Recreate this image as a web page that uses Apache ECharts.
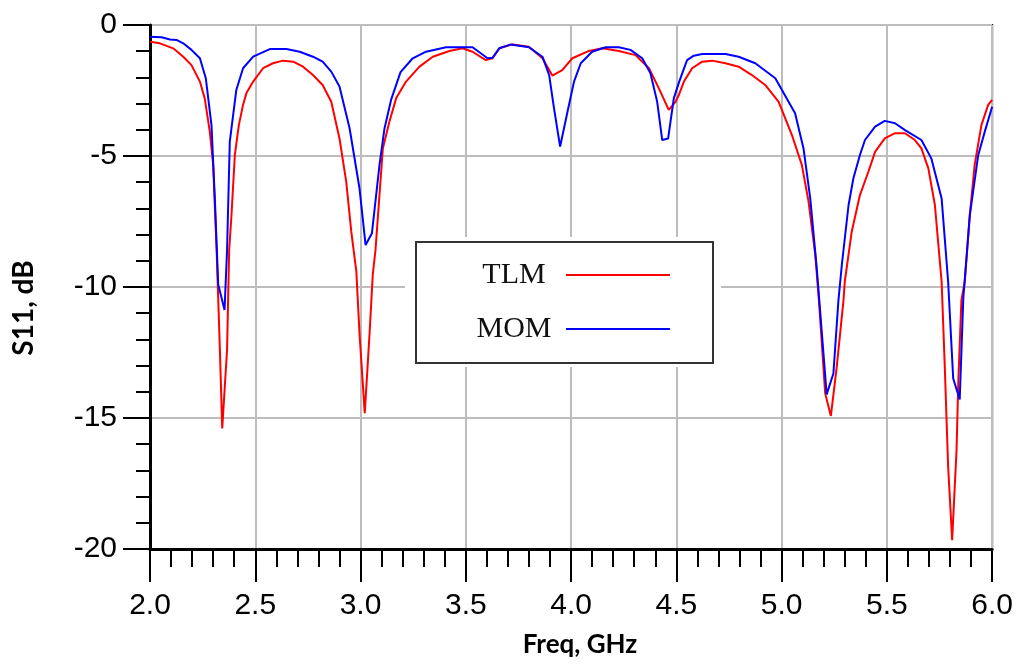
<!DOCTYPE html>
<html>
<head>
<meta charset="utf-8">
<script src="https://cdn.jsdelivr.net/npm/echarts@6/dist/echarts.min.js"></script>
<style>html,body{margin:0;padding:0;background:#fff;}#c{width:1016px;height:666px;}</style>
</head>
<body>
<div id="c"></div>
<script>
// ---- data ----
var xTicks = [2.0, 2.5, 3.0, 3.5, 4.0, 4.5, 5.0, 5.5, 6.0];
var yTicks = [0, -5, -10, -15, -20];
var seriesNames = ['TLM', 'MOM'];

var tlmFreq = [2.000,2.047,2.110,2.158,2.197,2.237,2.260,2.284,2.300,2.316,2.332,2.343,2.366,2.376,2.387,2.403,2.422,2.442,2.458,2.490,2.537,2.584,2.632,2.680,2.727,2.774,2.820,2.861,2.900,2.932,2.956,2.980,2.995,3.020,3.043,3.058,3.071,3.106,3.137,3.169,3.216,3.280,3.343,3.422,3.485,3.532,3.595,3.627,3.659,3.722,3.800,3.864,3.911,3.958,4.006,4.085,4.148,4.227,4.306,4.370,4.417,4.464,4.496,4.512,4.536,4.575,4.623,4.670,4.733,4.796,4.859,4.922,4.986,5.049,5.096,5.128,5.160,5.178,5.207,5.234,5.262,5.294,5.300,5.333,5.372,5.412,5.444,5.490,5.539,5.586,5.633,5.664,5.697,5.728,5.760,5.775,5.791,5.810,5.831,5.839,5.854,5.870,5.894,5.917,5.949,5.981,6.000];
var tlmS11 = [-0.64,-0.70,-0.89,-1.21,-1.53,-2.16,-2.80,-4.07,-5.34,-8.5,-12.4,-15.4,-12.4,-8.6,-7.25,-4.96,-3.82,-3.05,-2.6,-2.16,-1.65,-1.46,-1.36,-1.40,-1.59,-1.91,-2.29,-2.93,-4.33,-5.98,-7.89,-9.4,-11.76,-14.82,-11.76,-9.54,-8.59,-4.71,-3.69,-2.80,-2.16,-1.59,-1.21,-0.99,-0.89,-1.02,-1.34,-1.27,-0.89,-0.74,-0.83,-1.27,-1.93,-1.72,-1.27,-0.99,-0.89,-0.99,-1.15,-1.65,-2.42,-3.24,-2.93,-2.67,-2.16,-1.65,-1.40,-1.36,-1.46,-1.59,-1.91,-2.29,-2.93,-4.2,-5.34,-6.74,-8.78,-10.6,-14.06,-14.92,-13.04,-10.5,-9.8,-7.89,-6.49,-5.6,-4.84,-4.33,-4.13,-4.13,-4.39,-4.71,-5.47,-6.87,-9.8,-13.04,-16.86,-19.66,-16.2,-13.67,-10.5,-9.8,-7.25,-5.34,-3.82,-3.05,-2.86];

var momFreq = [2.000,2.055,2.095,2.126,2.158,2.197,2.237,2.265,2.292,2.308,2.324,2.354,2.366,2.379,2.410,2.442,2.490,2.569,2.648,2.711,2.774,2.820,2.861,2.900,2.948,2.995,3.024,3.054,3.090,3.114,3.145,3.190,3.248,3.311,3.406,3.532,3.571,3.603,3.627,3.659,3.714,3.800,3.864,3.896,3.919,3.948,3.983,4.014,4.046,4.100,4.164,4.227,4.282,4.338,4.377,4.409,4.433,4.461,4.488,4.512,4.530,4.551,4.583,4.623,4.733,4.796,4.875,4.970,5.064,5.104,5.136,5.167,5.214,5.246,5.270,5.286,5.318,5.341,5.372,5.396,5.444,5.490,5.539,5.586,5.664,5.711,5.760,5.791,5.815,5.846,5.863,5.894,5.934,5.965,6.000];
var momS11 = [-0.45,-0.47,-0.55,-0.57,-0.70,-0.95,-1.27,-2.03,-3.82,-6.62,-9.9,-10.88,-8.6,-4.45,-2.48,-1.65,-1.21,-0.92,-0.92,-1.02,-1.21,-1.40,-1.78,-2.35,-3.94,-6.23,-8.4,-7.95,-5.34,-3.94,-2.86,-1.8,-1.27,-1.02,-0.85,-0.85,-1.08,-1.27,-1.25,-0.89,-0.74,-0.85,-1.21,-1.91,-3.18,-4.64,-3.31,-2.16,-1.46,-1.02,-0.85,-0.85,-0.95,-1.27,-1.84,-2.93,-4.39,-4.33,-2.8,-2.2,-1.8,-1.34,-1.17,-1.11,-1.11,-1.21,-1.46,-2.03,-3.37,-4.71,-6.62,-9.29,-14.1,-13.3,-10.5,-9.16,-6.87,-5.85,-4.96,-4.39,-3.88,-3.66,-3.75,-4.01,-4.39,-5.09,-6.62,-9.8,-13.49,-14.29,-10.43,-7.25,-4.96,-4.07,-3.12];

function pairs(xs, ys) { return xs.map(function (x, i) { return [x, ys[i]]; }); }

var chart = echarts.init(document.getElementById('c'), null, { renderer: 'canvas' });
var gridColor = '#bdbdbd';
chart.setOption({
  animation: false,
  backgroundColor: '#ffffff',
  textStyle: { fontFamily: 'Liberation Sans, Arial, sans-serif' },
  grid: { left: 150, right: 22, top: 25, bottom: 117, show: true, borderColor: '#000', borderWidth: 2, backgroundColor: 'transparent' },
  xAxis: {
    type: 'value', min: xTicks[0], max: xTicks[xTicks.length - 1], interval: 0.5,
    axisLine: { show: true, onZero: false, lineStyle: { color: '#000', width: 3 } },
    axisTick: { show: true, inside: false, length: 33, lineStyle: { color: '#000', width: 2 } },
    minorTick: { show: true, splitNumber: 5, length: 18, lineStyle: { color: '#000', width: 2 } },
    splitLine: { show: true, lineStyle: { color: gridColor, width: 2 } },
    axisLabel: { color: '#000', fontSize: 30, margin: 42, formatter: function (v) { return v.toFixed(1); } }
  },
  yAxis: {
    type: 'value', min: yTicks[yTicks.length - 1], max: yTicks[0], interval: 5,
    axisLine: { show: true, onZero: false, lineStyle: { color: '#000', width: 3 } },
    axisTick: { show: true, inside: false, length: 27, lineStyle: { color: '#000', width: 2 } },
    minorTick: { show: true, splitNumber: 5, length: 14, lineStyle: { color: '#000', width: 2 } },
    splitLine: { show: true, lineStyle: { color: gridColor, width: 2 } },
    axisLabel: { color: '#000', fontSize: 30, margin: 33 }
  },
  legend: {
    orient: 'vertical', align: 'right', left: 416, top: 242,
    backgroundColor: '#fff', borderColor: '#333', borderWidth: 2,
    padding: [18, 43, 19, 51], itemGap: 24, itemWidth: 104, itemHeight: 2,
    icon: 'rect',
    data: seriesNames,
    formatter: function (n) { return '{t|' + n + '}'; },
    textStyle: { rich: { t: { fontFamily: 'Liberation Serif, Times New Roman, serif', fontSize: 30, color: '#111', width: 94, align: 'center', lineHeight: 30 } } }
  },
  graphic: [
    { type: 'rect', z: 3, shape: { x: 405, y: 237, width: 316, height: 130 }, style: { fill: '#fff' } },
    { type: 'text', x: 580, y: 645, style: { text: 'Freq, GHz', font: 'bold 26px Lato, "Open Sans", sans-serif', fill: '#000', align: 'center', verticalAlign: 'middle' } },
    { type: 'text', x: 24, y: 308, rotation: Math.PI / 2, style: { text: 'S11, dB', font: 'bold 28px Lato, "Open Sans", sans-serif', fill: '#000', align: 'center', verticalAlign: 'middle' } }
  ],
  series: [
    { name: seriesNames[0], type: 'line', data: pairs(tlmFreq, tlmS11), symbol: 'none', showSymbol: false, z: 5,
      lineStyle: { color: '#ff0000', width: 2 }, itemStyle: { color: '#ff0000' } },
    { name: seriesNames[1], type: 'line', data: pairs(momFreq, momS11), symbol: 'none', showSymbol: false, z: 6,
      lineStyle: { color: '#0000ff', width: 2 }, itemStyle: { color: '#0000ff' } }
  ]
});
</script>
</body>
</html>
